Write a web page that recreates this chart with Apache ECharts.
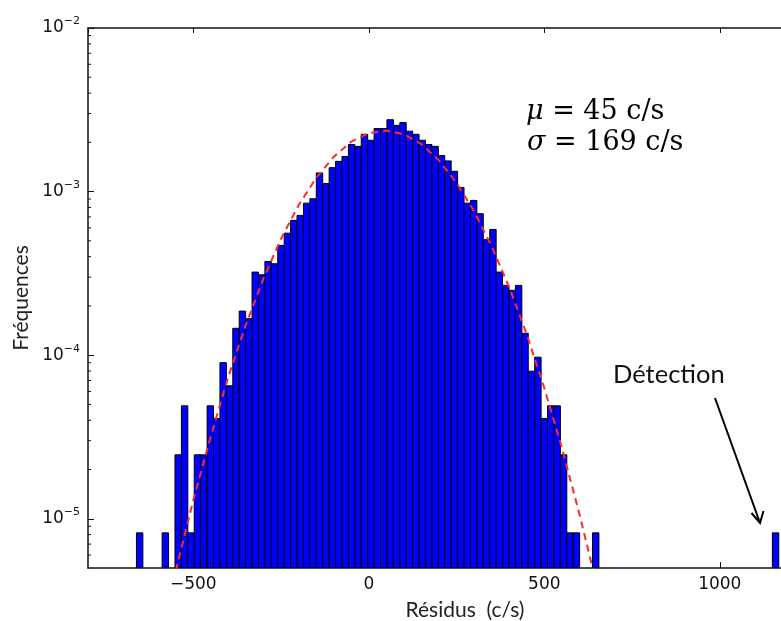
<!DOCTYPE html>
<html>
<head>
<meta charset="utf-8">
<script src="https://cdn.jsdelivr.net/npm/echarts@6/dist/echarts.min.js"></script>
<style>
html,body{margin:0;padding:0;background:#fff;}
#chart{width:781px;height:621px;}
</style>
</head>
<body>
<div id="chart"></div>
<script>
// ---- Data ----
const binStart = -662;      // left edge of the first histogram bin (c/s)
const binWidth = 18.3;      // histogram bin width (c/s)
const frequencies = [
  8.2e-6, null, null, null, 8.2e-6, null, 2.46e-5, 4.9e-5, 8.2e-6, 2.46e-5,
  2.46e-5, 4.9e-5, 4.1e-5, 9.0e-5, 6.5e-5, 1.46e-4, 1.86e-4, 1.67e-4, 3.22e-4, 3.1e-4,
  3.74e-4, 3.62e-4, 4.69e-4, 5.57e-4, 6.67e-4, 7.15e-4, 8.5e-4, 9.04e-4, 1.30e-3, 1.12e-3,
  1.40e-3, 1.53e-3, 1.64e-3, 1.94e-3, 1.89e-3, 2.24e-3, 2.06e-3, 2.43e-3, 2.43e-3, 2.75e-3,
  2.54e-3, 2.64e-3, 2.34e-3, 2.24e-3, 2.06e-3, 1.94e-3, 1.89e-3, 1.66e-3, 1.54e-3, 1.33e-3,
  1.06e-3, 8.5e-4, 8.83e-4, 7.32e-4, 5.08e-4, 5.87e-4, 3.22e-4, 2.67e-4, 2.49e-4, 2.67e-4,
  1.36e-4, 7.98e-5, 9.72e-5, 4.1e-5, 4.9e-5, 4.9e-5, 2.46e-5, 8.2e-6, 8.2e-6, null,
  null, 8.2e-6, null, null, null, null, null, null, null, null,
  null, null, null, null, null, null, null, null, null, null,
  null, null, null, null, null, null, null, null, null, 8.2e-6
];
// red dashed fitted curve
const fitX = [-550, -500, -450, -400, -350, -300, -250, -200, -150, -100, -50, 0, 50,
              100, 150, 200, 250, 300, 350, 400, 450, 500, 550, 600, 650];
const fitY = [4.8e-6, 1.3e-5, 3.2e-5, 7.4e-5, 1.54e-4, 2.94e-4, 5.15e-4, 8.26e-4, 1.21e-3,
              1.63e-3, 2.02e-3, 2.28e-3, 2.36e-3, 2.24e-3, 1.95e-3, 1.55e-3, 1.13e-3,
              7.56e-4, 4.63e-4, 2.60e-4, 1.34e-4, 6.3e-5, 2.72e-5, 1.07e-5, 3.9e-6];
const xMin = -800, xMax = 1200;
const yMin = 5e-6, yMax = 1e-2;
const xTickLabels = ['−500', '0', '500', '1000'];
const statsText = ['{i|μ} = 45 c/s', '{i|σ} = 169 c/s'];
const annotationText = 'Détection';
const xTitle = 'Résidus  (c/s)';
const yTitle = 'Fréquences';

// ---- build ----
const histData = [];
frequencies.forEach((f, i) => {
  if (f != null) histData.push([binStart + i * binWidth, binStart + (i + 1) * binWidth, f]);
});
const fitData = fitX.map((x, i) => [x, fitY[i]]);
const minorTickValues = [];
for (let k = -6; k <= -3; k++) {
  for (let m = 2; m <= 9; m++) {
    const v = m * Math.pow(10, k);
    if (v >= yMin && v <= yMax) minorTickValues.push([xMin, v]);
  }
}

const chart = echarts.init(document.getElementById('chart'), null, {renderer: 'canvas'});
const axisColor = '#111';
const labelFont = 'DejaVu Sans';

const option = {
  backgroundColor: '#fff',
  animation: false,
  grid: {left: 88, right: -9, top: 28, bottom: 53, containLabel: false, outerBoundsMode: 'none'},
  xAxis: [
    {
      type: 'value', min: xMin, max: xMax, position: 'bottom',
      axisLine: {show: true, onZero: false, lineStyle: {color: axisColor, width: 1.5}},
      axisTick: {show: true, inside: true, length: 6, lineStyle: {color: axisColor, width: 1}},
      splitLine: {show: false},
      axisLabel: {
        show: true, margin: 8, color: '#111', fontFamily: labelFont, fontSize: 17,
        showMinLabel: false, showMaxLabel: false,
        formatter: v => {
          const s = String(v).replace('-', '−');
          return xTickLabels.indexOf(s) >= 0 ? s : '';
        }
      }
    },
    {
      type: 'value', min: xMin, max: xMax, position: 'top',
      axisLine: {show: true, onZero: false, lineStyle: {color: axisColor, width: 1.5}},
      axisTick: {show: true, inside: true, length: 5, lineStyle: {color: axisColor, width: 1}},
      splitLine: {show: false},
      axisLabel: {show: false}
    }
  ],
  yAxis: [
    {
      type: 'log', logBase: 10, min: yMin, max: yMax,
      axisLine: {show: true, onZero: false, lineStyle: {color: axisColor, width: 1.5}},
      axisTick: {show: true, inside: true, length: 6, lineStyle: {color: axisColor, width: 1}},
      splitLine: {show: false},
      minorTick: {show: false},
      axisLabel: {
        show: true, margin: 8, showMinLabel: false,
        formatter: v => {
          const e = Math.round(Math.log10(v));
          return '{b|10}{s|' + (e < 0 ? '−' : '') + Math.abs(e) + '}';
        },
        rich: {
          b: {fontFamily: labelFont, fontSize: 17, color: '#111', lineHeight: 24, verticalAlign: 'middle'},
          s: {fontFamily: labelFont, fontSize: 11, color: '#111', lineHeight: 11, verticalAlign: 'top'}
        }
      }
    }
  ],
  series: [
    {
      type: 'custom',
      name: 'hist',
      xAxisIndex: 0, yAxisIndex: 0,
      clip: true,
      encode: {x: [0, 1], y: 2},
      data: histData,
      z: 2,
      renderItem: (params, api) => {
        const p0 = api.coord([api.value(0), api.value(2)]);
        const p1 = api.coord([api.value(1), yMin]);
        return {
          type: 'rect',
          shape: {x: p0[0], y: p0[1], width: p1[0] - p0[0], height: p1[1] - p0[1]},
          style: {fill: '#0000ff', stroke: '#000', lineWidth: 1}
        };
      }
    },
    {
      type: 'line',
      name: 'fit',
      xAxisIndex: 0, yAxisIndex: 0,
      data: fitData,
      showSymbol: false, symbol: 'none',
      clip: true,
      z: 3,
      lineStyle: {color: '#ff2a2a', width: 2, type: [7, 5]}
    },
    {
      type: 'custom',
      name: 'minorTicks',
      xAxisIndex: 0, yAxisIndex: 0,
      silent: true,
      clip: false,
      encode: {x: 0, y: 1},
      data: minorTickValues,
      z: 4,
      renderItem: (params, api) => {
        const p = api.coord([api.value(0), api.value(1)]);
        return {
          type: 'line',
          shape: {x1: p[0], y1: p[1], x2: p[0] + 3, y2: p[1]},
          style: {stroke: axisColor, lineWidth: 1}
        };
      }
    }
  ],
  graphic: [
    {
      type: 'text', x: 526, y: 112, z: 10,
      style: {
        text: statsText[0], fill: '#000', font: '27px "DejaVu Serif"',
        verticalAlign: 'middle', align: 'left',
        rich: {i: {fontStyle: 'italic', fontFamily: 'DejaVu Serif', fontSize: 27}}
      }
    },
    {
      type: 'text', x: 527, y: 143, z: 10,
      style: {
        text: statsText[1], fill: '#000', font: '27px "DejaVu Serif"',
        verticalAlign: 'middle', align: 'left',
        rich: {i: {fontStyle: 'italic', fontFamily: 'DejaVu Serif', fontSize: 27}}
      }
    },
    {
      type: 'text', x: 613, y: 375, z: 10,
      style: {text: annotationText, fill: '#111', font: '25.5px Lato', verticalAlign: 'middle', align: 'left'}
    },
    {
      type: 'polyline', z: 10,
      shape: {points: [[715, 398], [760, 523]]},
      style: {stroke: '#000', lineWidth: 2, fill: null}
    },
    {
      type: 'polyline', z: 10,
      shape: {points: [[751.5, 513], [760, 523], [763.5, 511]]},
      style: {stroke: '#000', lineWidth: 2, fill: null}
    },
    {
      type: 'text', x: 465, y: 610, z: 10,
      style: {text: xTitle, fill: '#222', font: '21px Lato', verticalAlign: 'middle', align: 'center'}
    },
    {
      type: 'text', x: 21.5, y: 298, z: 10, rotation: Math.PI / 2,
      style: {text: yTitle, fill: '#222', font: '21px Lato', verticalAlign: 'middle', align: 'center'}
    }
  ]
};
chart.setOption(option);
</script>
</body>
</html>
